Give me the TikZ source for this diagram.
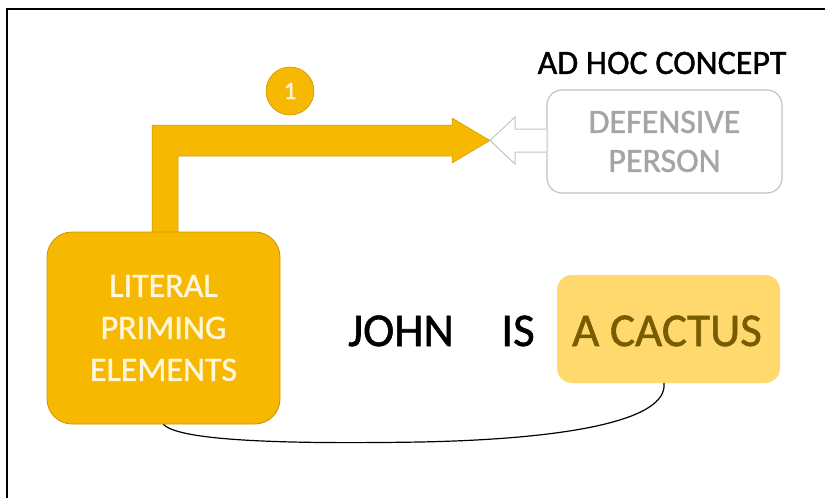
\documentclass[tikz,border=0pt]{standalone}
\usepackage{fontspec}
\setmainfont{Carlito}[FakeBold=1.2]
\newfontfamily\labelfont{Carlito}[FakeBold=1.2]
\usetikzlibrary{calc}
\definecolor{gold}{RGB}{246,184,0}
\definecolor{goldedge}{RGB}{205,150,0}
\definecolor{paleGold}{RGB}{255,217,110}
\definecolor{olive}{RGB}{120,92,0}
\definecolor{greyline}{RGB}{195,195,195}
\definecolor{greytext}{RGB}{165,165,165}
\definecolor{cream}{RGB}{255,246,220}
\tikzset{
  literalbox/.style={fill=gold, draw=goldedge, line width=0.8pt, rounded corners=25pt,
    minimum width=233pt, minimum height=192pt, align=center, text=cream,
    font=\fontsize{34}{42}\selectfont},
  conceptbox/.style={draw=greyline, line width=1.2pt, fill=white, rounded corners=15pt,
    minimum width=235pt, minimum height=103pt, align=center, text=greytext,
    font=\fontsize{34}{39}\selectfont},
  vehiclebox/.style={fill=paleGold, rounded corners=15pt, minimum width=223pt,
    minimum height=108pt},
  word/.style={text=black, font=\fontsize{47}{50}\selectfont},
  badge/.style={circle, fill=gold, draw=goldedge, line width=0.6pt, minimum size=48pt,
    inner sep=0pt, text=cream, font=\fontsize{25}{27}\selectfont},
  heading/.style={text=black, font=\fontsize{34}{38}\selectfont},
}
\begin{document}
\begin{tikzpicture}[x=1pt, y=-1pt]
\useasboundingbox (0,0) rectangle (825,498);
% frame
\draw[line width=2pt] (7,498) -- (7,9) -- (825,9);

% bent block arrow from the priming box to the concept
\coordinate (tip) at (490,140.5);
\fill[gold, draw=goldedge, line width=0.5pt]
  (152,240) -- (152,125) -- (452,125) -- (452,118) -- (tip)
  -- (452,163) -- (452,156) -- (178,156) -- (178,240) -- cycle;

% boxes
\node[literalbox] (lit) at (163.5,328) {LITERAL\\PRIMING\\ELEMENTS};
\node[conceptbox] (concept) at (664.5,141.5) {DEFENSIVE\\PERSON};
\node[heading] (adhoc) at (662,63) {AD HOC CONCEPT};
\node[badge] (one) at (290,91) {1};

% hollow arrow out of the concept box
\draw[greyline, line width=1pt, fill=white]
  (concept.west |- 0,129) -- (515,129) -- (515,117) -- (tip)
  -- (515,164) -- (515,152) -- (concept.west |- 0,152);

% sentence
\node[word, anchor=base] (john) at (401,346) {JOHN};
\node[word, anchor=base] (is) at (518,346) {IS};
\node[vehiclebox] (cactus) at (668.5,329) {};
\node[word, text=olive, anchor=base] (vehicle) at (667,346) {A CACTUS};

% link between the literal elements and the vehicle
\draw[black, line width=1.2pt]
  (lit.south) .. controls (180,442) and (300,444) .. (420,442)
  .. controls (570,439) and (668,420) .. (cactus.south -| 664,0);
\end{tikzpicture}
\end{document}
